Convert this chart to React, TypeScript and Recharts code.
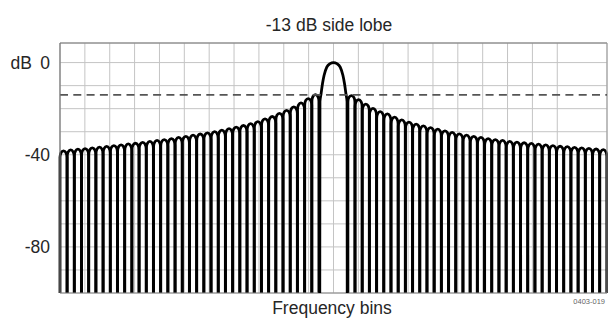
import React from 'react';
import {
  ComposedChart,
  Bar,
  Line,
  XAxis,
  YAxis,
  CartesianGrid,
  ReferenceLine,
} from 'recharts';

// Side-lobe peak levels (dB).
// Left side: from the outer edge inward toward the main lobe.
const leftPeaks = [
  -38.3, -37.9, -37.6, -37.3, -37, -36.7, -36.4, -36, -35.7, -35.3, -35, -34.6,
  -34.2, -33.8, -33.4, -33, -32.5, -32, -31.5, -31, -30.5, -30, -29.3, -28.7,
  -28, -27.3, -26.5, -25.6, -24.4, -23.4, -22, -20.7, -19.2, -17.5, -15.6, -13.9,
];
// Right side: from the main lobe outward.
const rightPeaks = [
  -14.3, -16.1, -18, -19.9, -21.3, -22.3, -23.7, -24.9, -25.8, -26.7, -27.5, -28.2,
  -28.9, -29.6, -30.3, -30.9, -31.5, -32, -32.5, -33, -33.4, -33.8, -34.2, -34.5,
  -34.8, -35.1, -35.4, -35.7, -36, -36.3, -36.5, -36.8, -37, -37.2, -37.5, -37.8,
];
// Slots covered by the main lobe (no side-lobe bar there).
const mainSlots = ['M0', 'M1', 'M2', 'M3'];

// Main lobe outline: x in grid divisions from the centre, level in dB.
const mainLobeX = [
  -0.553, -0.545, -0.5, -0.442, -0.378, -0.27, -0.137, 0, 0.137, 0.27, 0.378, 0.442, 0.5,
  0.545, 0.553,
];
const mainLobeDb = [
  -110, -17, -13.5, -9.1, -5.5, -2, -0.45, 0, -0.45, -2, -5.5, -9.1, -13.5, -17, -110,
];

const FLOOR = -110; // nulls fall below the plotted range
const sideLobeLevel = -14; // dashed reference
const yTicks = [-100, -90, -80, -70, -60, -50, -40, -30, -20, -10, 0];
const labeledTicks = [0, -40, -80];
const gridTicks = [-11, -10, -9, -8, -7, -6, -5, -4, -3, -2, -1, 0, 1, 2, 3, 4, 5, 6, 7, 8, 9, 10, 11];

const lobeData = [
  ...leftPeaks.map((p, i) => ({ slot: `L${i}`, lobe: [FLOOR, p] })),
  ...mainSlots.map((s) => ({ slot: s, lobe: null })),
  ...rightPeaks.map((p, i) => ({ slot: `R${i}`, lobe: [FLOOR, p] })),
];
const mainLobeData = mainLobeX.map((x, i) => ({ x, db: mainLobeDb[i] }));

const FONT = '"Liberation Sans", Arial, Helvetica, sans-serif';
const TEXT = '#262626';
const ARCH = 6.5; // px height of each side-lobe arch

// Side lobe: open arch (no bottom edge) drawn inside the bar box given by Recharts.
const LobeShape = (props: any) => {
  const { x, y, width, height, stroke, strokeWidth } = props;
  if (height == null || !width || isNaN(y)) return <g />;
  const a = Math.min(ARCH, Math.abs(height));
  const cx = x + width / 2;
  const bottom = y + height;
  const k = 0.5523;
  const hw = width / 2;
  const d =
    `M${x},${bottom} L${x},${y + a} ` +
    `C${x},${y + a - a * k} ${cx - hw * k},${y} ${cx},${y} ` +
    `C${cx + hw * k},${y} ${x + width},${y + a - a * k} ${x + width},${y + a} ` +
    `L${x + width},${bottom}`;
  return <path d={d} fill="none" stroke={stroke} strokeWidth={strokeWidth} strokeLinejoin="round" />;
};

const DbTick = (props: any) => {
  const { x, y, payload } = props;
  if (!labeledTicks.includes(payload.value)) return <g />;
  return (
    <g>
      <text x={x} y={y} dy="0.355em" textAnchor="end" fontFamily={FONT} fontSize={17.5} fill={TEXT}>
        {String(payload.value)}
      </text>
      {payload.value === 0 && (
        <text x={x - 18} y={y} dy="0.355em" textAnchor="end" fontFamily={FONT} fontSize={17.5} fill={TEXT}>
          dB
        </text>
      )}
    </g>
  );
};

export default function App() {
  return (
    <div style={{ position: 'absolute', left: 0, top: 0, width: 608, height: 323, background: '#fff' }}>
      <ComposedChart
        width={608}
        height={323}
        data={lobeData}
        margin={{ top: 43, right: 1, bottom: 30, left: 0 }}
        barCategoryGap={0}
        barGap={0}
      >
        <XAxis xAxisId="lobes" dataKey="slot" hide />
        <XAxis
          xAxisId="grid"
          type="number"
          dataKey="x"
          domain={[-11, 11]}
          ticks={gridTicks}
          allowDataOverflow
          hide
        />
        <YAxis
          width={60}
          domain={[-100, 8.5]}
          allowDataOverflow
          ticks={yTicks}
          interval={0}
          tick={<DbTick />}
          tickLine={false}
          tickSize={0}
          tickMargin={10}
          axisLine={{ stroke: '#777', strokeWidth: 1.2 }}
        />
        <CartesianGrid xAxisId="grid" stroke="#c4c4c4" strokeWidth={1} />
        <ReferenceLine xAxisId="grid" y={8.5} stroke="#777" strokeWidth={1.2} />
        <ReferenceLine xAxisId="grid" y={-100} stroke="#888" strokeWidth={1.2} />
        <ReferenceLine xAxisId="grid" x={11} stroke="#999" strokeWidth={1} />
        <Bar
          xAxisId="lobes"
          dataKey="lobe"
          fill="none"
          stroke="#000"
          strokeWidth={2.8}
          shape={<LobeShape />}
          isAnimationActive={false}
        />
        <Line
          xAxisId="grid"
          data={mainLobeData}
          dataKey="db"
          type="monotone"
          stroke="#000"
          strokeWidth={2.8}
          dot={false}
          activeDot={false}
          isAnimationActive={false}
        />
        <ReferenceLine
          xAxisId="grid"
          y={sideLobeLevel}
          stroke="#555"
          strokeWidth={1.8}
          strokeDasharray="8 5.3"
        />
      </ComposedChart>
      <svg
        width={608}
        height={323}
        style={{ position: 'absolute', left: 0, top: 0, pointerEvents: 'none' }}
      >
        <text x={329} y={31} textAnchor="middle" fontFamily={FONT} fontSize={17.5} fill={TEXT}>
          -13 dB side lobe
        </text>
        <text x={332} y={314} textAnchor="middle" fontFamily={FONT} fontSize={17.5} fill={TEXT}>
          Frequency bins
        </text>
        <text x={605} y={304} textAnchor="end" fontFamily={FONT} fontSize={7.5} fill="#666">
          0403-019
        </text>
      </svg>
    </div>
  );
}
